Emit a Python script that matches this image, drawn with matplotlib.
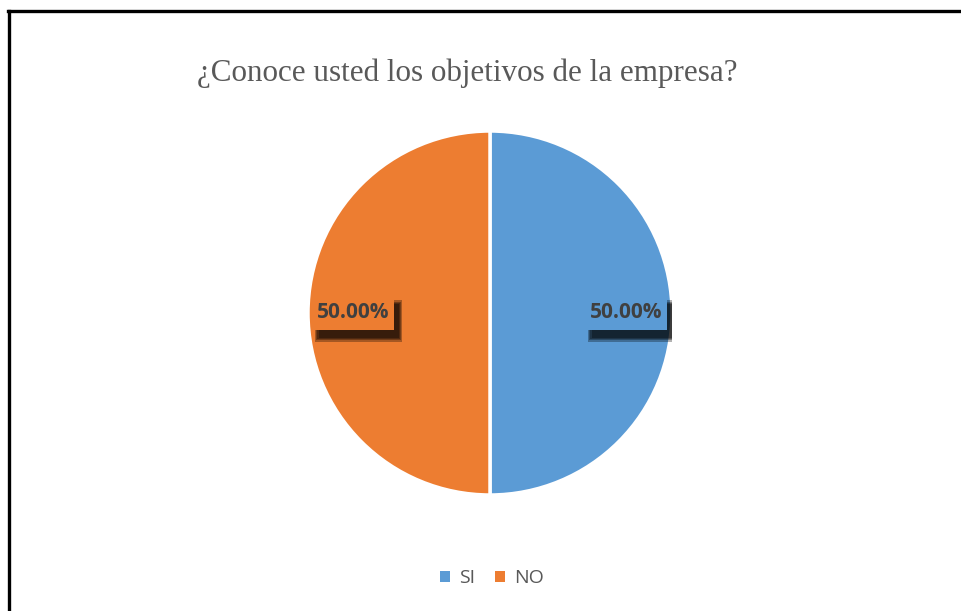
import numpy as np
import matplotlib.pyplot as plt
from matplotlib.lines import Line2D
from matplotlib.patches import Patch, Rectangle

# Survey answers
categories = ["SI", "NO"]
values = [50.0, 50.0]
colors = ["#5B9BD5", "#ED7D31"]
title = "¿Conoce usted los objetivos de la empresa?"

W, H = 961, 611
fig = plt.figure(figsize=(W / 100, H / 100), dpi=100)
fig.patch.set_facecolor("white")

# frame lines along the top and left
fig.add_artist(Line2D([8 / W, 1], [1 - 11 / H, 1 - 11 / H], color="black", lw=2.4,
                      transform=fig.transFigure))
fig.add_artist(Line2D([9 / W, 9 / W], [1 - 11 / H, 0], color="black", lw=2.4,
                      transform=fig.transFigure))

cx, cy, r = 490, 313, 182
ax = fig.add_axes([(cx - r) / W, (H - cy - r) / H, 2 * r / W, 2 * r / H])
wedges, _ = ax.pie(values, colors=colors, startangle=90, counterclock=False,
                   wedgeprops=dict(edgecolor="white", linewidth=2.5))
ax.set_xlim(-1, 1)
ax.set_ylim(-1, 1)
ax.set_aspect("equal")
ax.axis("off")

# percentage labels: filled box with a soft dark drop shadow
px = 1.0 / r                 # one pixel in data units
bw, bh = 80 * px, 34 * px    # label box size
sx, sy = 5 * px, -8 * px     # shadow offset
total = sum(values)
ang = 90.0
for v, c in zip(values, colors):
    theta = ang - v / total * 180
    ang -= v / total * 360
    x = 0.75 * np.cos(np.radians(theta))
    y = 0.75 * np.sin(np.radians(theta))
    for k in range(3, -1, -1):
        g = k * 1.2 * px
        ax.add_patch(Rectangle((x - bw / 2 + sx - g, y - bh / 2 + sy - g),
                               bw + 2 * g, bh + 2 * g, fc="black", ec="none",
                               alpha=0.3, zorder=3))
    ax.add_patch(Rectangle((x - bw / 2, y - bh / 2), bw, bh, fc=c, ec="none", zorder=4))
    ax.text(x, y, f"{v:.2f}%", ha="center", va="center", fontsize=15,
            fontweight="bold", family="Open Sans", color="#404040", zorder=5)

fig.text(467 / W, 1 - 73 / H, title, ha="center", va="center", fontsize=22.4,
         family="Liberation Serif", color="#595959")

handles = [Patch(facecolor=c, edgecolor="none") for c in colors]
fig.legend(handles, categories, loc="center", bbox_to_anchor=(492 / W, 1 - 578 / H),
           ncol=2, frameon=False, handlelength=0.5, handleheight=0.5,
           handletextpad=0.5, columnspacing=1.0,
           prop=dict(family="Open Sans", size=14), labelcolor="#595959")

fig.savefig("out.png", dpi=100, facecolor="white")
